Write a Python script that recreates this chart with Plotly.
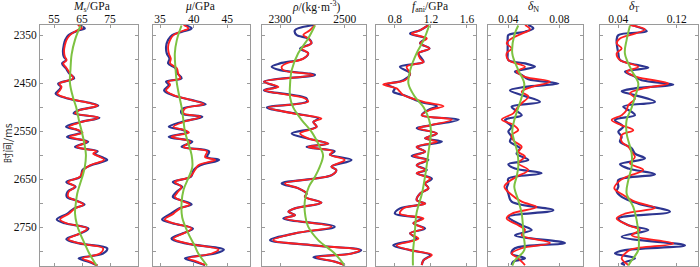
import plotly.graph_objects as go

# ---------------- data ----------------
# Panel 1: Ms (GPa)
ms_t = [2329, 2336, 2341, 2350, 2360, 2371, 2384, 2395, 2402, 2409, 2419, 2430, 2440, 2451, 2458, 2465, 2472, 2482,
        2492, 2497, 2506, 2513, 2522, 2531, 2541, 2548, 2553, 2562, 2572, 2583, 2592, 2597, 2604, 2610, 2621, 2631,
        2645, 2656, 2666, 2676, 2687, 2694, 2703, 2711, 2722, 2734, 2742, 2753, 2763, 2775, 2784, 2794, 2805, 2815,
        2822, 2830]
ms_red = [63.5, 65.0, 63.0, 60.7, 59.5, 58.9, 58.6, 58.9, 59.5, 58.3, 59.5, 60.7, 61.9, 56.9, 57.7, 57.1, 56.2, 60.1,
          67.9, 70.5, 64.3, 62.5, 70.8, 64.9, 60.4, 63.7, 65.2, 60.7, 66.7, 63.1, 70.2, 69.0, 71.4, 72.9, 67.9, 65.5,
          64.3, 60.0, 62.5, 60.3, 60.1, 62.5, 65.5, 62.5, 60.3, 57.2, 59.5, 66.9, 64.3, 60.1, 64.3, 72.5, 71.4, 65.2,
          67.9, 70.5]
ms_blue = [63.8, 66.0, 63.5, 60.2, 59.0, 58.5, 58.2, 58.5, 59.3, 57.9, 59.2, 60.5, 62.2, 56.5, 57.5, 56.7, 55.6, 59.8,
           68.3, 70.8, 64.0, 62.0, 71.2, 64.5, 59.3, 63.5, 64.8, 59.6, 67.2, 62.5, 70.6, 69.4, 72.0, 74.0, 68.3, 65.2,
           64.5, 59.4, 62.7, 59.9, 59.6, 62.6, 65.9, 62.2, 59.8, 56.0, 59.0, 67.3, 64.6, 59.4, 64.0, 74.0, 72.5, 63.8,
           67.3, 70.5]
ms_green_t = [2330, 2360, 2390, 2420, 2450, 2480, 2500, 2530, 2551, 2575, 2600, 2625, 2640, 2660, 2680, 2700, 2721,
              2745, 2763, 2785, 2805, 2830]
ms_green = [64.5, 62.5, 61.3, 60.9, 60.7, 61.8, 62.9, 64.0, 64.9, 65.8, 66.4, 66.0, 65.4, 64.3, 63.3, 62.8, 62.5,
            63.2, 64.3, 66.0, 67.6, 70.2]

# Panel 2: mu (GPa)
mu_t = [2329, 2336, 2343, 2350, 2360, 2374, 2388, 2399, 2409, 2419, 2430, 2440, 2447, 2454, 2465, 2475, 2485, 2494,
        2503, 2513, 2520, 2531, 2541, 2548, 2553, 2562, 2572, 2583, 2592, 2604, 2610, 2621, 2631, 2645, 2656, 2666,
        2676, 2687, 2694, 2703, 2711, 2722, 2734, 2742, 2753, 2763, 2774, 2784, 2797, 2805, 2815, 2822, 2829]
mu_red = [38.5, 39.2, 38.0, 37.0, 36.5, 36.2, 36.3, 36.6, 36.5, 37.5, 37.7, 38.0, 36.2, 36.5, 35.9, 37.0, 39.5, 41.5,
          38.7, 38.5, 41.0, 38.5, 37.0, 38.7, 39.3, 36.7, 39.5, 38.5, 42.0, 41.7, 43.2, 40.7, 40.2, 39.5, 37.2, 38.2,
          37.7, 37.2, 38.0, 39.4, 38.0, 37.0, 35.7, 37.0, 39.7, 38.5, 37.0, 39.0, 43.7, 42.7, 39.2, 40.5, 41.7]
mu_blue = [38.7, 39.7, 38.3, 36.8, 36.2, 35.9, 36.0, 36.4, 36.2, 37.3, 37.6, 38.2, 35.9, 36.3, 35.6, 36.8, 39.6, 41.8,
           38.4, 38.2, 41.3, 38.2, 36.3, 38.5, 39.0, 36.3, 39.8, 38.2, 42.3, 42.0, 43.8, 41.0, 40.0, 39.6, 36.9, 38.3,
           37.5, 36.9, 38.1, 39.7, 37.8, 36.6, 35.3, 36.8, 39.9, 38.4, 36.7, 38.8, 44.5, 43.2, 38.7, 40.2, 41.7]
mu_green_t = [2330, 2360, 2388, 2420, 2450, 2480, 2500, 2530, 2551, 2575, 2600, 2625, 2645, 2672, 2700, 2730, 2763,
              2790, 2805, 2830]
mu_green = [38.2, 37.5, 37.2, 37.3, 37.5, 37.9, 38.2, 38.5, 38.7, 39.2, 39.7, 39.8, 39.3, 38.5, 38.2, 38.3, 39.2,
            40.2, 40.7, 42.0]

# Panel 3: rho (kg/m3)
rho_t = [2329, 2340, 2350, 2357, 2367, 2378, 2388, 2399, 2409, 2416, 2423, 2433, 2447, 2458, 2465, 2482, 2489, 2501,
         2513, 2524, 2531, 2541, 2555, 2565, 2576, 2583, 2592, 2599, 2610, 2624, 2631, 2642, 2659, 2669, 2680, 2687,
         2699, 2711, 2718, 2725, 2732, 2749, 2763, 2777, 2788, 2798, 2805, 2813, 2822, 2829]
rho_red = [2408, 2392, 2372, 2387, 2397, 2367, 2387, 2372, 2320, 2305, 2310, 2403, 2250, 2295, 2252, 2377, 2387, 2264,
           2340, 2428, 2403, 2413, 2362, 2387, 2449, 2387, 2464, 2454, 2500, 2459, 2474, 2459, 2315, 2356, 2382, 2377,
           2428, 2346, 2326, 2346, 2315, 2459, 2346, 2279, 2403, 2546, 2521, 2413, 2469, 2500]
rho_blue = [2408, 2346, 2351, 2387, 2397, 2362, 2387, 2372, 2300, 2274, 2300, 2408, 2250, 2290, 2250, 2382, 2382, 2259,
            2345, 2418, 2403, 2413, 2336, 2382, 2449, 2382, 2469, 2454, 2521, 2459, 2474, 2459, 2305, 2356, 2382, 2377,
            2428, 2346, 2326, 2346, 2310, 2469, 2346, 2269, 2403, 2551, 2521, 2403, 2469, 2500]
rho_green_t = [2330, 2357, 2388, 2423, 2451, 2480, 2501, 2527, 2551, 2583, 2600, 2624, 2645, 2666, 2694, 2721, 2749,
               2777, 2805, 2830]
rho_green = [2408, 2387, 2356, 2336, 2331, 2331, 2341, 2367, 2397, 2423, 2433, 2423, 2408, 2389, 2377, 2377, 2387,
             2418, 2469, 2500]

# Panel 4: f_ani (GPa)
fa_t = [2329, 2340, 2347, 2357, 2367, 2378, 2388, 2399, 2406, 2416, 2430, 2444, 2453, 2461, 2468, 2475, 2489, 2498,
        2506, 2517, 2526, 2538, 2544, 2555, 2565, 2572, 2583, 2593, 2602, 2610, 2621, 2631, 2638, 2649, 2659, 2669,
        2680, 2694, 2701, 2711, 2722, 2732, 2742, 2753, 2763, 2774, 2788, 2798, 2808, 2819, 2829]
fa_red = [1.172, 1.079, 0.986, 1.154, 1.079, 1.184, 1.061, 1.079, 1.117, 0.930, 0.968, 0.912, 0.670, 0.819, 0.856,
          0.893, 1.117, 1.340, 1.191, 1.098, 1.433, 1.191, 1.061, 1.266, 1.135, 1.266, 1.042, 1.135, 1.005, 1.154,
          1.042, 1.135, 1.042, 1.191, 1.135, 1.172, 1.079, 1.042, 1.135, 0.893, 0.856, 1.117, 1.005, 1.117, 0.968,
          1.061, 0.819, 0.968, 1.210, 1.117, 1.098]
fa_blue = [1.172, 1.079, 0.968, 1.135, 1.079, 1.184, 1.061, 1.098, 1.117, 0.856, 0.968, 0.893, 0.707, 0.800, 0.781,
           0.893, 1.079, 1.266, 1.172, 1.098, 1.508, 1.191, 1.042, 1.266, 1.135, 1.321, 1.042, 1.135, 0.986, 1.172,
           1.042, 1.154, 1.042, 1.210, 1.135, 1.172, 1.079, 1.042, 1.135, 0.856, 0.800, 1.098, 1.005, 1.135, 0.968,
           1.042, 0.781, 0.968, 1.191, 1.117, 1.098]
fa_green_t = [2330, 2360, 2388, 2423, 2451, 2478, 2501, 2527, 2551, 2597, 2638, 2680, 2721, 2763, 2805, 2830]
fa_green = [1.18, 1.12, 1.04, 0.97, 0.95, 1.02, 1.12, 1.18, 1.20, 1.17, 1.14, 1.10, 1.04, 1.02, 1.00, 1.00]

# Panel 5: delta_N
dn_blue_t = [2329, 2336, 2343, 2350, 2357, 2374, 2388, 2402, 2409, 2416, 2426, 2433, 2442, 2451, 2458, 2465, 2475,
             2489, 2499, 2506, 2517, 2527, 2541, 2551, 2562, 2572, 2586, 2597, 2610, 2619, 2628, 2638, 2649, 2659,
             2669, 2680, 2697, 2715, 2728, 2735, 2746, 2756, 2767, 2783, 2794, 2805, 2815, 2822, 2829]
dn_blue = [0.0557, 0.0596, 0.0531, 0.0400, 0.0395, 0.0395, 0.0395, 0.0400, 0.0531, 0.0609, 0.0452, 0.0505, 0.0557,
           0.0792, 0.0531, 0.0413, 0.0505, 0.0648, 0.0426, 0.0452, 0.0505, 0.0374, 0.0426, 0.0400, 0.0426, 0.0413,
           0.0492, 0.0465, 0.0557, 0.0400, 0.0452, 0.0661, 0.0400, 0.0400, 0.0387, 0.0400, 0.0426, 0.0753, 0.0400,
           0.0426, 0.0505, 0.0583, 0.0452, 0.0844, 0.0452, 0.0426, 0.0531, 0.0439, 0.0426]
dn_red_t = [2329, 2338, 2347, 2357, 2367, 2378, 2388, 2402, 2416, 2426, 2437, 2447, 2458, 2468, 2478, 2492, 2503,
            2513, 2526, 2537, 2548, 2558, 2569, 2583, 2593, 2603, 2617, 2631, 2645, 2656, 2666, 2680, 2697, 2708,
            2722, 2732, 2746, 2756, 2767, 2783, 2794, 2805, 2815, 2829]
dn_red = [0.0531, 0.0570, 0.0505, 0.0426, 0.0387, 0.0426, 0.0387, 0.0400, 0.0531, 0.0465, 0.0531, 0.0727, 0.0583,
          0.0505, 0.0557, 0.0505, 0.0465, 0.0439, 0.0348, 0.0439, 0.0478, 0.0426, 0.0439, 0.0505, 0.0478, 0.0531,
          0.0478, 0.0557, 0.0465, 0.0400, 0.0369, 0.0413, 0.0505, 0.0622, 0.0426, 0.0387, 0.0478, 0.0531, 0.0505,
          0.0727, 0.0505, 0.0426, 0.0478, 0.0531]
dn_green_t = [2330, 2350, 2388, 2423, 2451, 2479, 2501, 2527, 2551, 2597, 2624, 2645, 2666, 2694, 2722, 2763, 2798,
              2819, 2830]
dn_green = [0.0478, 0.0447, 0.0431, 0.0478, 0.0525, 0.0505, 0.0478, 0.0447, 0.0431, 0.0473, 0.0478, 0.0465, 0.0447,
            0.0478, 0.0505, 0.0518, 0.0525, 0.0452, 0.0431]

# Panel 6: delta_T
dt_blue_t = [2329, 2342, 2350, 2360, 2388, 2402, 2412, 2418, 2426, 2435, 2444, 2453, 2461, 2467, 2475, 2489, 2499,
             2510, 2517, 2527, 2541, 2551, 2562, 2572, 2586, 2597, 2607, 2619, 2628, 2640, 2652, 2666, 2676, 2687,
             2701, 2718, 2732, 2746, 2756, 2770, 2788, 2798, 2805, 2815, 2826, 2829]
dt_blue = [0.0583, 0.0790, 0.0400, 0.0377, 0.0400, 0.0423, 0.0651, 0.0811, 0.0491, 0.0605, 0.0720, 0.1153, 0.0628,
           0.0446, 0.0628, 0.0902, 0.0468, 0.0583, 0.0628, 0.0354, 0.0468, 0.0400, 0.0446, 0.0423, 0.0583, 0.0628,
           0.0765, 0.0423, 0.0537, 0.0902, 0.0400, 0.0400, 0.0377, 0.0446, 0.0674, 0.1108, 0.0400, 0.0537, 0.0811,
           0.0446, 0.1313, 0.0491, 0.0354, 0.0628, 0.0446, 0.0491]
dt_red_t = [2329, 2338, 2347, 2357, 2367, 2378, 2388, 2402, 2416, 2426, 2437, 2451, 2461, 2471, 2482, 2496, 2506,
            2517, 2527, 2538, 2548, 2558, 2572, 2583, 2593, 2604, 2617, 2631, 2645, 2656, 2669, 2683, 2697, 2710,
            2722, 2732, 2746, 2756, 2767, 2784, 2796, 2805, 2815, 2829]
dt_red = [0.0560, 0.0765, 0.0628, 0.0423, 0.0377, 0.0446, 0.0377, 0.0423, 0.0674, 0.0514, 0.0651, 0.1085, 0.0742,
          0.0560, 0.0628, 0.0537, 0.0514, 0.0446, 0.0309, 0.0446, 0.0605, 0.0446, 0.0446, 0.0537, 0.0583, 0.0628,
          0.0560, 0.0742, 0.0514, 0.0400, 0.0345, 0.0468, 0.0628, 0.0902, 0.0491, 0.0377, 0.0537, 0.0696, 0.0583,
          0.1153, 0.0583, 0.0491, 0.0446, 0.0537]
dt_green_t = [2330, 2360, 2388, 2423, 2451, 2479, 2501, 2527, 2555, 2597, 2624, 2652, 2680, 2708, 2735, 2763, 2798,
              2819, 2830]
dt_green = [0.056, 0.0514, 0.049, 0.058, 0.0674, 0.0628, 0.0583, 0.0514, 0.0514, 0.0583, 0.0583, 0.0537, 0.0514,
            0.0605, 0.0651, 0.0674, 0.0674, 0.0583, 0.0537]

titles = ["<i>M</i><sub>s</sub>/GPa", "<i>μ</i>/GPa", "<i>ρ</i>/(kg·m<sup>-3</sup>)",
          "<i>f</i><sub>ani</sub>/GPa", "<i>δ</i><sub>N</sub>", "<i>δ</i><sub>T</sub>"]
xticks = [[55, 65, 75], [35, 40, 45], [2300, 2500], [0.8, 1.2, 1.6], [0.04, 0.08], [0.04, 0.12]]
xticktext = [["55", "65", "75"], ["35", "40", "45"], ["2300", "2500"], ["0.8", "1.2", "1.6"],
             ["0.04", "0.08"], ["0.04", "0.12"]]
ytickvals = [2350, 2450, 2550, 2650, 2750]
yticktext = ["2350", "2450", "2550", "2650", "2750"]
ytitle = "时间/ms"

panels = [
    (ms_t, ms_blue, ms_t, ms_red, ms_green_t, ms_green),
    (mu_t, mu_blue, mu_t, mu_red, mu_green_t, mu_green),
    (rho_t, rho_blue, rho_t, rho_red, rho_green_t, rho_green),
    (fa_t, fa_blue, fa_t, fa_red, fa_green_t, fa_green),
    (dn_blue_t, dn_blue, dn_red_t, dn_red, dn_green_t, dn_green),
    (dt_blue_t, dt_blue, dt_red_t, dt_red, dt_green_t, dt_green),
]

# ---------------- layout geometry (pixels) ----------------
W, H = 700, 267
px_x = [(40, 138), (152.7, 250), (262.3, 365.7), (376, 476), (488.3, 583.3), (600, 697.7)]
xranges = [[50, 85], [33.9, 48.4], [2245, 2565], [0.59, 1.70], [0.0243, 0.0988], [0.0149, 0.1488]]
title_cx = [91, 200, 316, 430, 533, 634]
y_top, y_bot = 25, 266
yrange = [2831, 2329]

BLUE = "#2d3590"
RED = "#ff1f1f"
GREEN = "#7dc241"
FONT = "Liberation Serif"

fig = go.Figure()
layout = {}
for i, (bt, bv, rt, rv, gt, gv) in enumerate(panels):
    n = "" if i == 0 else str(i + 1)
    xa, ya = "x" + n, "y" + n
    fig.add_trace(go.Scatter(x=bv, y=bt, mode="lines", xaxis=xa, yaxis=ya,
                             line=dict(color=BLUE, width=2.2, shape="spline", smoothing=1.0),
                             showlegend=False, hoverinfo="skip"))
    fig.add_trace(go.Scatter(x=rv, y=rt, mode="lines", xaxis=xa, yaxis=ya,
                             line=dict(color=RED, width=1.8, shape="spline", smoothing=1.0),
                             showlegend=False, hoverinfo="skip"))
    fig.add_trace(go.Scatter(x=gv, y=gt, mode="lines", xaxis=xa, yaxis=ya,
                             line=dict(color=GREEN, width=2.0, shape="spline", smoothing=1.0),
                             showlegend=False, hoverinfo="skip"))
    layout["xaxis" + n] = dict(
        domain=[px_x[i][0] / W, px_x[i][1] / W], range=xranges[i], anchor=ya, side="top",
        showgrid=False, zeroline=False, showline=True, linecolor="#9a9a9a", linewidth=1, mirror="ticks",
        ticks="inside", ticklen=3, tickcolor="#9a9a9a", tickvals=xticks[i], ticktext=xticktext[i],
        ticklabelstandoff=-4,
        tickfont=dict(family=FONT, size=11.5, color="#111"), automargin=False)
    layout["yaxis" + n] = dict(
        domain=[1 - y_bot / H, 1 - y_top / H], range=yrange, anchor=xa,
        showgrid=False, zeroline=False, showline=True, linecolor="#9a9a9a", linewidth=1, mirror="ticks",
        ticks="inside", ticklen=3, tickcolor="#9a9a9a", tickvals=ytickvals, ticktext=yticktext,
        minor=dict(tick0=2350, dtick=50, ticks="inside", ticklen=3, tickcolor="#9a9a9a"),
        showticklabels=(i == 0), tickfont=dict(family=FONT, size=11.5, color="#111"), automargin=False)

annotations = []
for i, t in enumerate(titles):
    annotations.append(dict(text=t, x=title_cx[i] / W, y=1 - 7 / H, xref="paper", yref="paper",
                            xanchor="center", yanchor="middle", showarrow=False,
                            font=dict(family=FONT, size=11.5, color="#111")))
annotations.append(dict(text=ytitle, x=7 / W, y=1 - 143 / H, xref="paper", yref="paper",
                        xanchor="center", yanchor="middle", showarrow=False, textangle=-90,
                        font=dict(family="Noto Sans CJK SC", size=10.5, color="#333")))

fig.update_layout(**layout)
fig.update_layout(width=W, height=H, margin=dict(l=0, r=0, t=0, b=0),
                  paper_bgcolor="white", plot_bgcolor="white", annotations=annotations)

fig.write_html("out.html", config={"displayModeBar": False},
               post_script="document.body.style.margin='0';document.body.style.overflow='hidden';")
